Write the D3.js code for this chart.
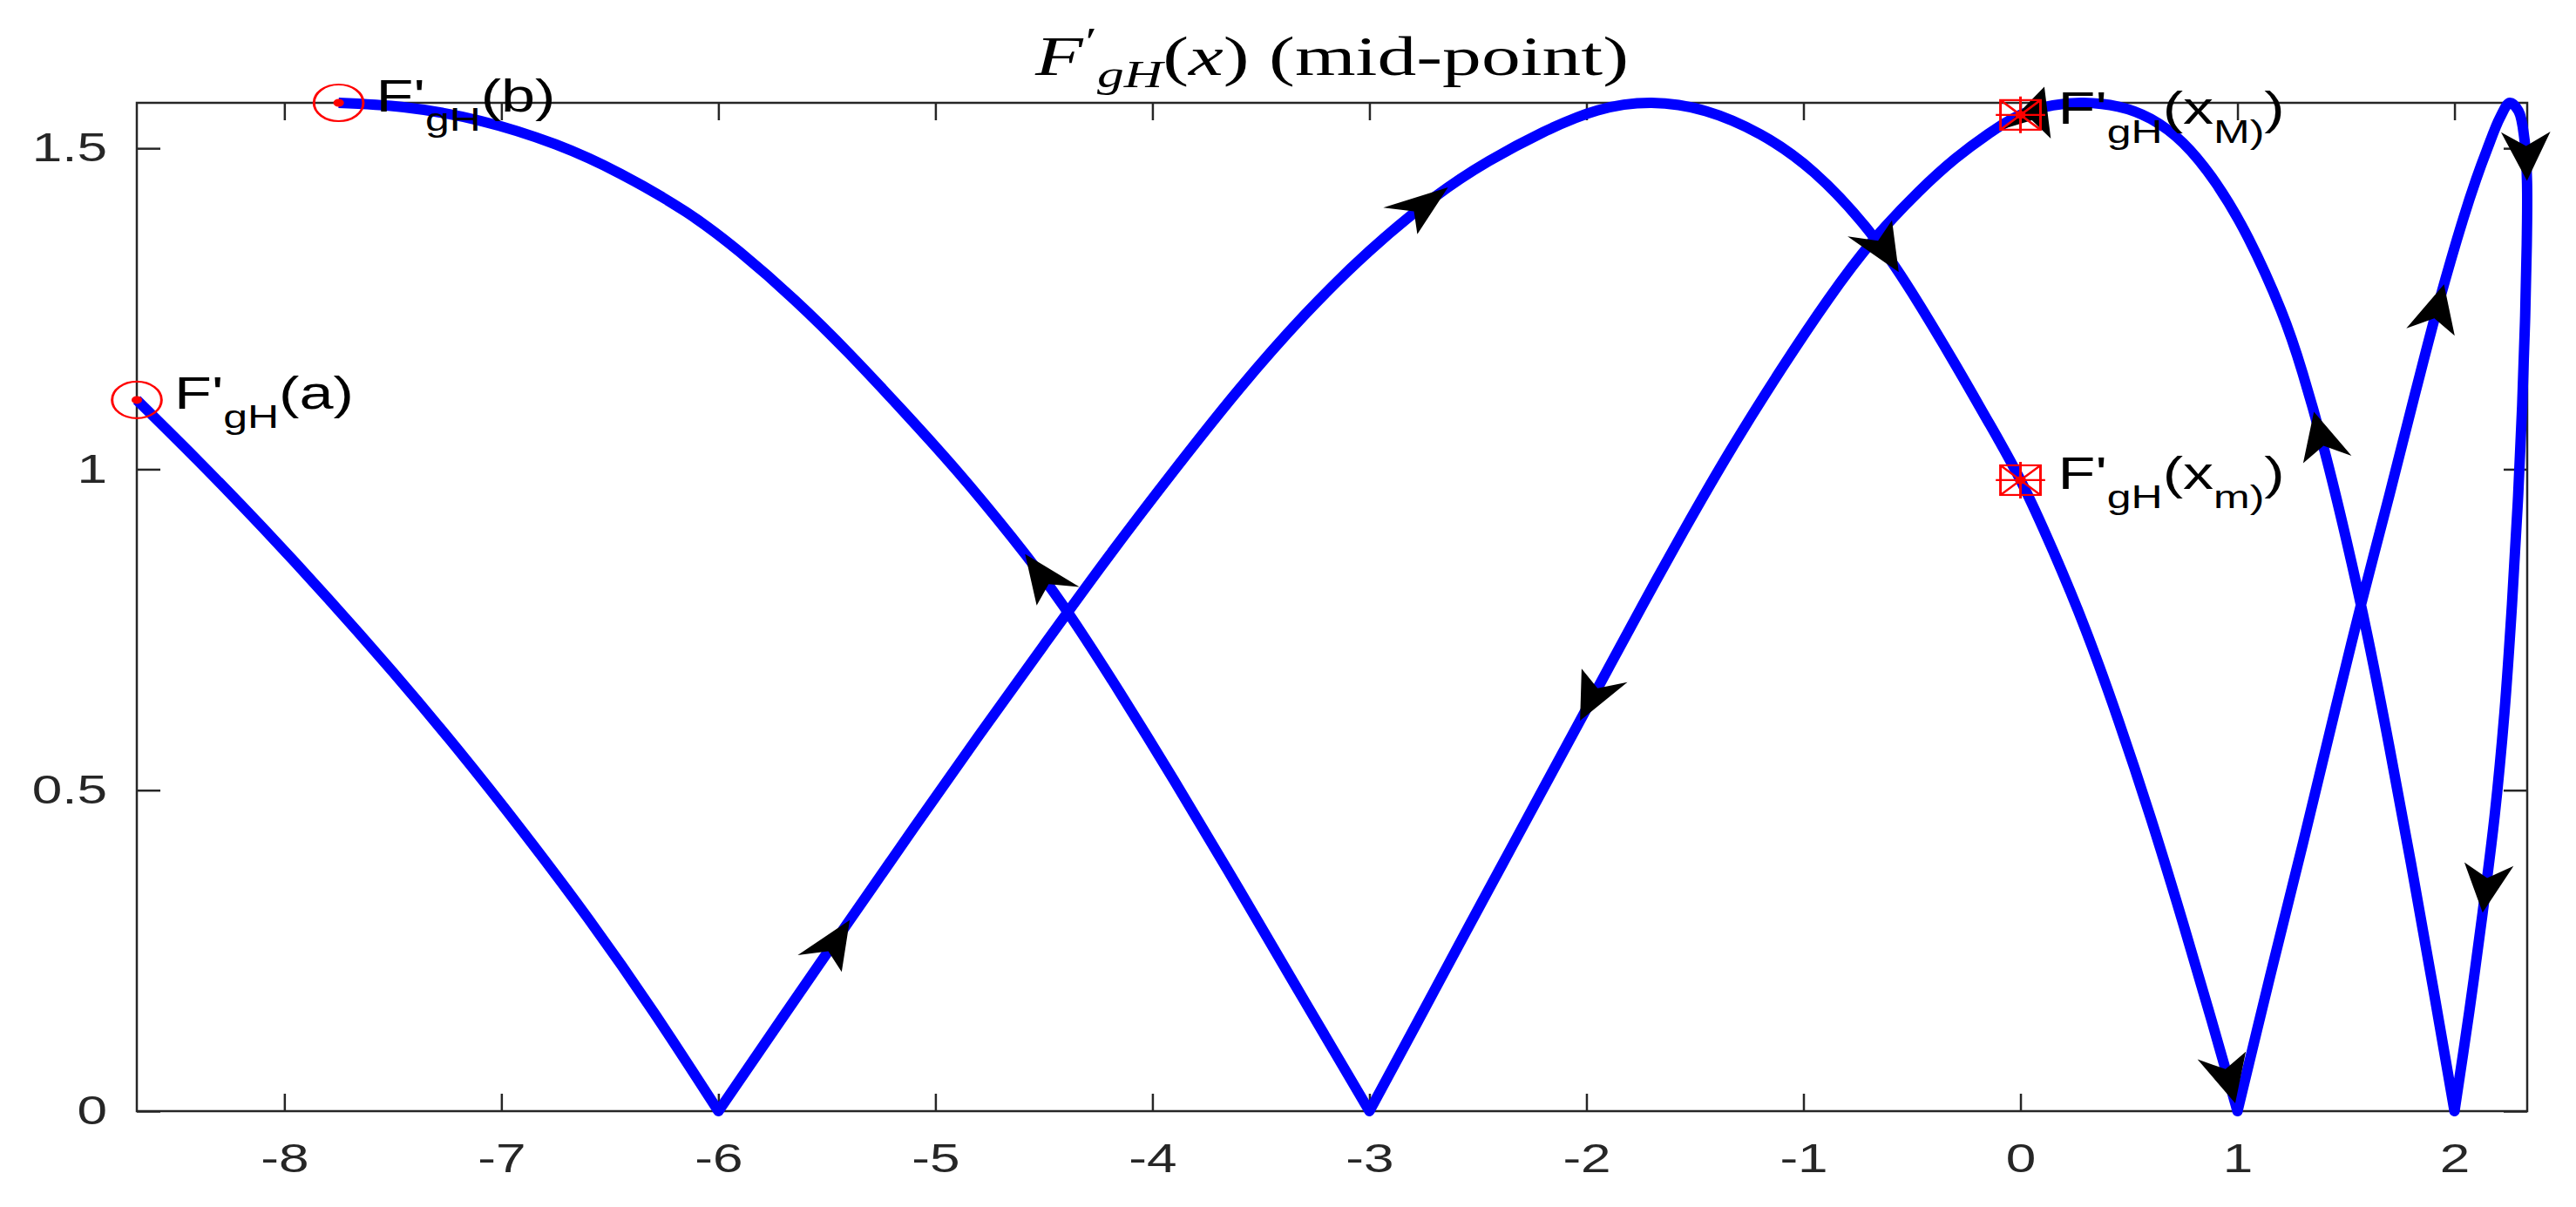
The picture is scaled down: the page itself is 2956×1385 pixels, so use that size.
<!DOCTYPE html>
<html><head><meta charset="utf-8">
<script src="https://cdn.jsdelivr.net/npm/d3@7"></script>
<style>body{margin:0;background:#fff;} svg{display:block;}</style>
</head><body>
<script>
// ---------------- data ----------------
const xDomain = [-8.68, 2.335];
const yDomain = [0, 1.5708];
const xTicks = [-8, -7, -6, -5, -4, -3, -2, -1, 0, 1, 2];
const yTicks = [0, 0.5, 1, 1.5];
const yTickLabels = ["0", "0.5", "1", "1.5"];
const titleParts = ["F", "′", "gH", "(", "x", ")", " (mid-point)"];

// path of F'gH as traced, in order of travel, split at the cusps on y = 0
const arc0X = [-8.68, -8.40, -8.10, -7.80, -7.50, -7.20, -6.90, -6.60, -6.30, -6.00];
const arc0Y = [1.108, 1.014, 0.909, 0.799, 0.684, 0.563, 0.435, 0.300, 0.155, 0.000];

const arc1X = [-6.00, -5.70, -5.40, -5.10, -4.80, -4.50, -4.20, -3.90, -3.60, -3.30, -3.00, -2.70, -2.45, -2.20, -1.95, -1.70,
               -1.45, -1.20, -0.95, -0.70, -0.50, -0.30, -0.15, 0.00, 0.15, 0.30, 0.45, 0.60, 0.75, 0.88, 1.00];
const arc1Y = [0.000, 0.148, 0.295, 0.441, 0.585, 0.726, 0.865, 0.998, 1.125, 1.240, 1.340, 1.424, 1.480, 1.525, 1.559, 1.5708,
               1.558, 1.522, 1.462, 1.372, 1.275, 1.163, 1.075, 0.983, 0.873, 0.750, 0.610, 0.457, 0.292, 0.142, 0.000];

const arc2X = [1.00, 1.15, 1.30, 1.45, 1.57, 1.70, 1.82, 1.93, 2.04, 2.10, 2.15, 2.21, 2.255, 2.295, 2.322, 2.334, 2.333,
               2.325, 2.312, 2.292, 2.265, 2.230, 2.185, 2.130, 2.068, 2.000];
const arc2Y = [0.000, 0.210, 0.415, 0.625, 0.790, 0.960, 1.120, 1.262, 1.390, 1.452, 1.498, 1.548, 1.5708, 1.558, 1.515, 1.450, 1.350,
               1.230, 1.100, 0.950, 0.790, 0.620, 0.460, 0.310, 0.155, 0.000];

const arc3X = [2.00, 1.90, 1.80, 1.70, 1.60, 1.50, 1.40, 1.30, 1.20, 1.05, 0.90, 0.75, 0.60, 0.45, 0.29, 0.15, 0.00,
               -0.15, -0.30, -0.47, -0.68, -0.885, -1.10, -1.33, -1.55, -1.75, -1.95, -2.15, -2.35, -2.55, -2.78, -3.00];
const arc3Y = [0.000, 0.195, 0.385, 0.567, 0.739, 0.892, 1.030, 1.150, 1.248, 1.360, 1.446, 1.508, 1.546, 1.565, 1.5708, 1.567, 1.552,
               1.522, 1.484, 1.432, 1.356, 1.265, 1.157, 1.033, 0.905, 0.783, 0.658, 0.533, 0.408, 0.283, 0.138, 0.000];

const arc4X = [-3.00, -3.30, -3.60, -3.90, -4.15, -4.41, -4.65, -4.90, -5.15, -5.40, -5.65, -5.90, -6.15, -6.45, -6.75, -7.10, -7.45, -7.75];
const arc4Y = [0.000, 0.172, 0.345, 0.515, 0.652, 0.787, 0.895, 0.997, 1.091, 1.181, 1.264, 1.338, 1.401, 1.460, 1.506, 1.543, 1.564, 1.5708];

// direction arrows: arc index, approximate tip position, fixed angle (deg, null = along the path)
const arrowArc = [1, 1, 1, 1, 2, 2, 2, 3, 3, 3, 4];
const arrowX   = [-5.39, -2.64, -0.563, 0.99, 1.93, 2.33, 2.116, 1.35, 0.11, -2.04, -4.59];
const arrowY   = [0.296, 1.440, 1.307, 0.012, 1.290, 1.450, 0.309, 1.090, 1.596, 0.610, 0.868];
const arrowAngle = [null, null, null, null, null, null, null, null, -74.7, null, null];

// marked points
const pointX     = [-8.68, -7.75, 0.00, 0.00];
const pointY     = [1.108, 1.5708, 1.552, 0.983];
const pointShape = ["circle", "circle", "square", "square"];
const pointArg   = ["(a)", "(b)", "(x|M)", "(x|m)"];

// ---------------- drawing ----------------
const W = 2956, H = 1385;
const L = 157, R = 2900, T = 118, B = 1275;
const SX = 1.35;               // the reference is stretched horizontally
const axisColor = "#262626";
const sans = "'Liberation Sans', Arial, Helvetica, sans-serif";
const serif = "'Liberation Serif', 'Times New Roman', serif";

const svg = d3.select("body").append("svg").attr("width", W).attr("height", H)
  .style("background", "#fff");

const x = d3.scaleLinear().domain(xDomain).range([L, R]);
const y = d3.scaleLinear().domain(yDomain).range([B, T]);

// axes
function styleAxis(g) {
  g.select(".domain").remove();
  g.selectAll(".tick line").attr("stroke", axisColor).attr("stroke-width", 2.5);
  g.selectAll(".tick text").attr("fill", axisColor).attr("font-family", sans).attr("font-size", 46);
}
const gx = svg.append("g").attr("transform", `translate(0,${B})`)
  .call(d3.axisBottom(x).tickValues(xTicks).tickSize(-20).tickSizeOuter(0).tickPadding(37).tickFormat(d => String(d)))
  .call(styleAxis);
gx.selectAll(".tick text").attr("transform", `scale(${SX},1)`);

svg.append("g").attr("transform", `translate(0,${T})`)
  .call(d3.axisTop(x).tickValues(xTicks).tickSize(-20).tickSizeOuter(0).tickFormat(""))
  .call(styleAxis);

const gy = svg.append("g").attr("transform", `translate(${L},0)`)
  .call(d3.axisLeft(y).tickValues(yTicks).tickSize(-27).tickSizeOuter(0).tickPadding(34 / SX)
        .tickFormat((d, i) => yTickLabels[i]))
  .call(styleAxis);
gy.selectAll(".tick text").attr("transform", `scale(${SX},1)`);

svg.append("g").attr("transform", `translate(${R},0)`)
  .call(d3.axisRight(y).tickValues(yTicks).tickSize(-27).tickSizeOuter(0).tickFormat(""))
  .call(styleAxis);

svg.append("rect").attr("x", L).attr("y", T).attr("width", R - L).attr("height", B - T)
  .attr("fill", "none").attr("stroke", axisColor).attr("stroke-width", 2.5);

// title
const title = svg.append("text")
  .attr("transform", `translate(${(L + R) / 2},86) scale(1.4,1)`)
  .attr("text-anchor", "middle").attr("font-family", serif).attr("font-size", 64).attr("fill", "#000");
title.append("tspan").attr("font-style", "italic").text(titleParts[0]);
title.append("tspan").attr("font-size", 44).attr("dy", -24).attr("dx", 2).text(titleParts[1]);
title.append("tspan").attr("font-style", "italic").attr("font-size", 44).attr("dy", 38).attr("dx", 0).text(titleParts[2]);
title.append("tspan").attr("dy", -14).text(titleParts[3]);
title.append("tspan").attr("font-style", "italic").text(titleParts[4]);
title.append("tspan").text(titleParts[5]);
title.append("tspan").attr("xml:space", "preserve").style("white-space", "pre").text(titleParts[6]);

// the curve (smooth splines between the cusps)
const arcX = [arc0X, arc1X, arc2X, arc3X, arc4X];
const arcY = [arc0Y, arc1Y, arc2Y, arc3Y, arc4Y];
const arcCurve = [d3.curveNatural, d3.curveNatural, d3.curveCatmullRom.alpha(0.5), d3.curveNatural, d3.curveNatural];
const lineFor = i => d3.line().x(d => x(d[0])).y(d => y(d[1])).curve(arcCurve[i]);
const arcPts = arcX.map((xs, i) => xs.map((v, j) => [v, arcY[i][j]]));
let pathStr = "";
arcPts.forEach((pts, i) => {
  let s = lineFor(i)(pts);
  if (i > 0) s = s.replace(/^M[^C]*/, "");
  pathStr += s;
});
svg.append("path").attr("d", pathStr).attr("fill", "none").attr("stroke", "#0000ff")
  .attr("stroke-width", 12).attr("stroke-linejoin", "round").attr("stroke-linecap", "butt");

// arrows, oriented along the direction of travel
const helper = svg.append("g").attr("visibility", "hidden");
const arrowG = svg.append("g");
arrowArc.forEach((a, k) => {
  const tx = x(arrowX[k]), ty = y(arrowY[k]);
  let px = tx, py = ty, ang = arrowAngle[k];
  if (ang === null) {
    const p = helper.append("path").attr("d", lineFor(a)(arcPts[a])).node();
    const len = p.getTotalLength();
    let best = 0, bd = Infinity;
    for (let s = 0; s <= len; s += 1) {
      const q = p.getPointAtLength(s);
      const dd = (q.x - tx) ** 2 + (q.y - ty) ** 2;
      if (dd < bd) { bd = dd; best = s; }
    }
    const s0 = Math.max(0, best - 8), s1 = Math.min(len, best + 8);
    const q0 = p.getPointAtLength(s0), q1 = p.getPointAtLength(s1), qt = p.getPointAtLength(best);
    ang = Math.atan2(q1.y - q0.y, (q1.x - q0.x) / SX) * 180 / Math.PI;
    px = qt.x; py = qt.y;
  }
  arrowG.append("path")
    .attr("d", "M0,0 L-56,-21 L-40,0 L-56,21 Z")
    .attr("transform", `translate(${px},${py}) scale(${SX},1) rotate(${ang})`)
    .attr("fill", "#000");
});
helper.remove();

// marked points and their labels
const red = "#ff0000";
pointX.forEach((px, i) => {
  const cx = x(px), cy = y(pointY[i]);
  const g = svg.append("g").attr("transform", `translate(${cx},${cy}) scale(${SX},1)`);
  if (pointShape[i] === "circle") {
    g.append("circle").attr("r", 21).attr("fill", "none").attr("stroke", red).attr("stroke-width", 2.2);
  } else {
    const h = 17;
    g.append("rect").attr("x", -h).attr("y", -h).attr("width", 2 * h).attr("height", 2 * h)
      .attr("fill", "none").attr("stroke", red).attr("stroke-width", 2.2);
    g.append("path").attr("d", `M${-h},${-h}L${h},${h}M${-h},${h}L${h},${-h}M${-h - 4},0L${h + 4},0M0,${-h - 4}L0,${h + 4}`)
      .attr("stroke", red).attr("stroke-width", 2.2);
  }
  g.append("circle").attr("r", 4.5).attr("fill", red);

  const t = svg.append("text").attr("transform", `translate(${cx + 43},${cy + 10}) scale(${SX},1)`)
    .attr("font-family", sans).attr("font-size", 52).attr("fill", "#000");
  t.append("tspan").text("F'");
  t.append("tspan").attr("font-size", 37).attr("dy", 22).text("gH");
  const arg = pointArg[i];
  if (arg.indexOf("|") < 0) {
    t.append("tspan").attr("dy", -22).text(arg);
  } else {
    const [a, sub] = arg.split("|");
    t.append("tspan").attr("dy", -22).text(a);
    t.append("tspan").attr("font-size", 37).attr("dy", 22).text(sub);
    t.append("tspan").attr("dy", -22).text(")");
  }
});
</script>
</body></html>
